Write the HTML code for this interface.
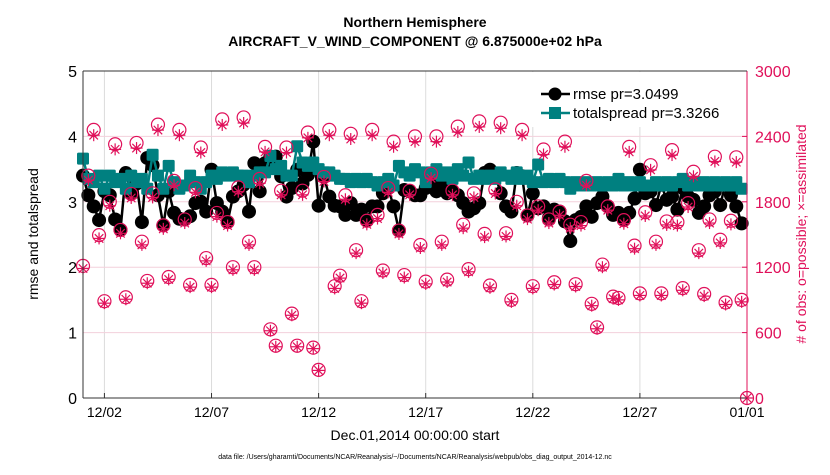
<!DOCTYPE html>
<html><head><meta charset="utf-8"><style>
body{margin:0;background:#fff;width:830px;height:470px;overflow:hidden}
svg{font-family:"Liberation Sans",sans-serif}
</style></head><body>
<svg id="chart" width="830" height="470">
<g>
<text x="415" y="27" text-anchor="middle" font-size="14" font-weight="bold">Northern Hemisphere</text>
<text x="415" y="46" text-anchor="middle" font-size="14" font-weight="bold">AIRCRAFT_V_WIND_COMPONENT @ 6.875000e+02 hPa</text>
</g>
<g id="grid"></g>
<g id="rmse"></g>
<g id="spread"></g>
<g id="obs"></g>
<g id="axes"></g>
<text x="38" y="234" transform="rotate(-90 38 234)" text-anchor="middle" font-size="14">rmse and totalspread</text>
<text x="806" y="234" transform="rotate(-90 806 234)" text-anchor="middle" font-size="14" fill="#e0105a"># of obs: o=possible; ×=assimilated</text>
<text x="415" y="440" text-anchor="middle" font-size="14">Dec.01,2014 00:00:00 start</text>
<text x="415" y="459" text-anchor="middle" font-size="7">data file: /Users/gharamti/Documents/NCAR/Reanalysis/~/Documents/NCAR/Reanalysis/webpub/obs_diag_output_2014-12.nc</text>
<g>
<rect x="532" y="72" width="210" height="55" fill="#fff"/>
<g>
<line x1="541" y1="94" x2="570" y2="94" stroke="#000" stroke-width="2.5"/>
<circle cx="555" cy="94" r="6.5" fill="#000"/>
<text x="573" y="99" font-size="15">rmse pr=3.0499</text></g>
<g>
<line x1="541" y1="113" x2="570" y2="113" stroke="#008080" stroke-width="2.5"/>
<rect x="549" y="107" width="12" height="12" fill="#008080"/>
<text x="573" y="118" font-size="15">totalspread pr=3.3266</text></g>
</g>
</svg>
<script>
const obsPossible=[2.02,3.4,4.1,2.49,1.48,3.0,3.88,2.57,1.54,3.12,3.9,2.39,1.79,3.13,4.18,2.64,1.85,3.32,4.1,2.73,1.73,3.21,3.83,2.14,1.73,2.83,4.26,2.69,2.0,3.22,4.29,2.39,2.0,3.35,3.84,1.05,0.8,3.17,3.83,1.29,0.8,3.17,4.06,0.77,0.43,3.38,4.1,1.71,1.87,3.1,4.04,2.26,1.48,2.71,4.1,2.8,1.95,3.21,3.92,2.56,
1.88,3.17,4.0,2.34,1.78,3.43,4.0,2.39,1.81,3.17,4.15,2.65,1.97,3.13,4.23,2.51,1.72,3.19,4.21,2.52,1.5,3.0,4.1,2.79,1.71,2.93,3.8,2.73,1.77,2.85,3.92,2.65,1.74,2.69,3.32,1.44,1.08,2.04,2.93,1.55,1.53,2.72,3.84,2.33,1.6,2.84,3.56,2.39,1.6,2.7,3.79,2.69,1.68,2.98,3.46,2.26,1.59,2.73,3.69,2.42,1.46,2.71,3.68,1.5,0].map(v=>Math.round(v*600));
const obsUsed=obsPossible.map(v=>Math.round(v*0.98));
const rmse=[3.4,3.1,2.93,2.72,3.16,3.1,2.73,2.57,3.44,3.13,3.28,2.69,3.67,3.56,3.1,2.64,3.16,2.83,2.74,2.73,2.78,2.98,3.0,2.85,3.49,2.98,2.85,2.69,3.08,3.16,3.26,2.85,3.59,3.16,3.59,3.69,3.69,3.39,3.08,3.21,3.49,3.28,3.41,3.92,2.94,3.38,3.08,2.94,2.93,2.8,2.98,2.8,2.88,2.72,2.93,2.93,3.13,3.21,2.93,2.56,
3.18,3.16,3.1,3.1,3.21,3.26,3.16,3.26,3.13,3.16,3.1,2.98,2.85,2.9,2.98,3.44,3.49,3.41,3.13,2.93,2.85,3.44,3.39,2.79,3.13,2.9,2.93,2.75,2.88,2.85,2.7,2.4,2.72,2.77,2.93,2.77,2.98,3.08,2.93,2.8,2.83,2.72,2.83,3.05,3.49,3.13,3.16,2.95,3.26,3.03,3.08,2.88,3.21,3.08,3.03,2.83,2.93,3.1,3.16,2.95,3.28,3.1,2.93,2.67];
const spread=[3.66,3.35,3.3,3.4,3.2,3.4,3.3,3.35,3.2,3.4,3.3,3.35,3.2,3.72,3.4,3.2,3.55,3.3,3.2,3.25,3.4,3.3,3.2,3.3,3.4,3.35,3.45,3.4,3.45,3.4,3.4,3.3,3.4,3.45,3.45,3.7,3.5,3.55,3.4,3.4,3.85,3.6,3.55,3.6,3.5,3.45,3.45,3.4,3.35,3.35,3.3,3.35,3.3,3.35,3.3,3.25,3.3,3.35,3.25,3.55,
3.45,3.4,3.5,3.45,3.3,3.45,3.5,3.4,3.45,3.35,3.5,3.4,3.6,3.35,3.4,3.35,3.4,3.35,3.45,3.4,3.35,3.45,3.35,3.4,3.3,3.57,3.3,3.35,3.3,3.35,3.3,3.2,3.3,3.25,3.3,3.25,3.3,3.25,3.3,3.25,3.35,3.25,3.3,3.25,3.3,3.25,3.25,3.3,3.25,3.3,3.25,3.3,3.35,3.25,3.3,3.25,3.3,3.25,3.3,3.25,3.3,3.25,3.3,3.2];
const xTickLabels=["12/02","12/07","12/12","12/17","12/22","12/27","01/01"];
const xTickDays=[1,6,11,16,21,26,31];
const yTicks=[0,1,2,3,4,5];
const y2Ticks=[0,600,1200,1800,2400,3000];

const X0=83,X1=747,Y0=398,Y1=71,DAYS=31;
const xs=d=>X0+d*(X1-X0)/DAYS;
const ys=v=>Y0-v*(Y0-Y1)/5;
const y2s=v=>Y0-v*(Y0-Y1)/3000;
const NS="http://www.w3.org/2000/svg";
function mk(tag,attrs,parent){const e=document.createElementNS(NS,tag);for(const k in attrs)e.setAttribute(k,attrs[k]);parent.appendChild(e);return e;}
const grid=document.getElementById('grid'),axes=document.getElementById('axes');
xTickDays.forEach((d,i)=>{
  const gl=mk('line',{x1:xs(d),x2:xs(d),y1:Y1,y2:Y0,stroke:'#dcdcdc','stroke-width':1},grid);
  
  
  const t=mk('text',{x:xs(d),y:Y0+19,'text-anchor':'middle','font-size':14},axes);
  t.textContent=xTickLabels[i];
  
  
  mk('line',{x1:xs(d),x2:xs(d),y1:Y0,y2:Y0-5,stroke:'#333'},axes);
});
yTicks.forEach(v=>{
  const gl=mk('line',{x1:X0,x2:X1,y1:ys(v),y2:ys(v),stroke:'#f3d0dc','stroke-width':1},grid);
  
  
  const t=mk('text',{x:X0-6,y:ys(v)+6,'text-anchor':'end','font-size':16},axes);
  t.textContent=v;
  
  
});
y2Ticks.forEach(v=>{
  const t=mk('text',{x:X1+8,y:y2s(v)+6,'font-size':16,fill:'#e0105a'},axes);
  t.textContent=v;
  
  
  mk('line',{x1:X1,x2:X1-5,y1:y2s(v),y2:y2s(v),stroke:'#e0105a'},axes);
});
mk('line',{x1:X0,x2:X0,y1:Y1,y2:Y0,stroke:'#333'},axes);
mk('line',{x1:X0,x2:X1,y1:Y0,y2:Y0,stroke:'#333'},axes);
mk('line',{x1:X1,x2:X1,y1:Y1,y2:Y0,stroke:'#e0105a'},axes);
mk('line',{x1:X0,x2:X1,y1:Y1,y2:Y1,stroke:'#333'},axes);

function series(arr,gid,color,shape,name){
  const g=document.getElementById(gid);
  const pts=arr.map((v,i)=>xs(i*0.25)+','+ys(v)).join(' ');
  const pl=mk('polyline',{points:pts,fill:'none',stroke:color,'stroke-width':2.5},g);
  
  
  arr.forEach((v,i)=>{
    let m;
    if(shape==='c') m=mk('circle',{cx:xs(i*0.25),cy:ys(v),r:7,fill:color},g);
    else m=mk('rect',{x:xs(i*0.25)-6,y:ys(v)-6,width:12,height:12,rx:1.5,fill:color},g);
    
    
  });
}
series(rmse,'rmse','#000','c','rmse');
series(spread,'spread','#008080','s','totalspread');

const obsG=document.getElementById('obs');
obsPossible.forEach((v,i)=>{
  const cx=xs(i*0.25),cy=y2s(v);
  const c=mk('circle',{cx:cx,cy:cy,r:6.5,fill:'none',stroke:'#e0105a','stroke-width':1.2},obsG);
  
  
  const cu=y2s(obsUsed[i]);
  const g=mk('g',{stroke:'#e0105a','stroke-width':1.2},obsG);
  
  
  for(let a=0;a<4;a++){const ang=a*Math.PI/4,dx=6*Math.cos(ang),dy=6*Math.sin(ang);
    mk('line',{x1:cx-dx,y1:cu-dy,x2:cx+dx,y2:cu+dy},g);}
});
</script>
</body></html>
